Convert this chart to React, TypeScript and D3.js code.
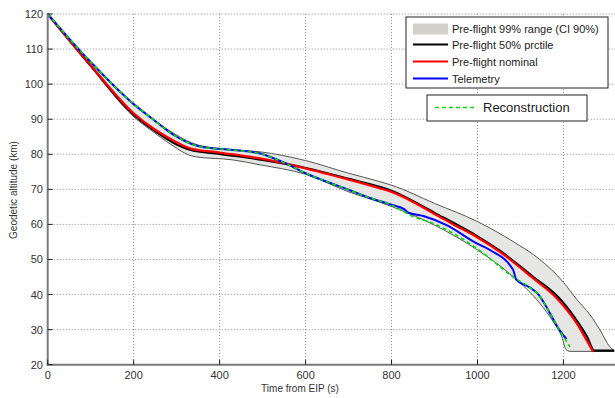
import React from "react";
import * as d3 from "d3";

// ---------- data ----------
const xTicks = [0, 200, 400, 600, 800, 1000, 1200];
const yTicks = [20, 30, 40, 50, 60, 70, 80, 90, 100, 110, 120];

const bandUpperT = [0, 100, 200, 277, 354, 431, 494, 600, 700, 773, 800, 900, 1000, 1083, 1145, 1200, 1231, 1262, 1285, 1308, 1318];
const bandUpperA = [120, 106.2, 94.3, 87.2, 82.5, 81.3, 80.7, 78.2, 74.6, 72.2, 71.2, 66, 60.8, 55.1, 50, 43.5, 38.6, 34.2, 29.9, 25.1, 24];
const bandLowerT = [0, 100, 200, 250, 277, 343, 431, 494, 600, 700, 773, 800, 900, 1000, 1083, 1145, 1176, 1196, 1206, 1215, 1318];
const bandLowerA = [120, 105, 90.7, 86, 83.6, 79.3, 78.4, 77, 74.3, 69.3, 66.3, 65.1, 59.8, 52.7, 45.1, 37.5, 32.3, 28, 24.3, 23.8, 23.8];

const p50T = [0, 100, 200, 250, 300, 331, 400, 500, 600, 700, 800, 900, 1000, 1052, 1130, 1180, 1200, 1231, 1254, 1272, 1318];
const p50A = [120, 105.2, 91.3, 86.6, 82.8, 81.3, 80.1, 78.4, 76.1, 73, 69.6, 63.3, 56.6, 52.5, 45, 40.2, 37.6, 32.6, 28.2, 24, 24];

const nominalT = [0, 100, 200, 250, 277, 331, 400, 494, 600, 700, 773, 800, 900, 944, 1000, 1052, 1130, 1180, 1200, 1231, 1254, 1269];
const nominalA = [120, 105.4, 91.7, 87, 85, 81.7, 80.5, 78.8, 76, 72.8, 70.3, 69.3, 63, 60, 56.3, 52.2, 44.6, 39.5, 36.8, 31.8, 27, 23.7];

const telemetryT = [0, 100, 200, 250, 277, 300, 354, 431, 494, 550, 600, 700, 742, 800, 830, 838, 874, 928, 998, 1029, 1083, 1090, 1122, 1142, 1168, 1190, 1207];
const telemetryA = [120, 106.3, 94.3, 89.5, 86.9, 85, 82.2, 81.2, 80.2, 77.6, 74.6, 69.9, 67.9, 65.6, 64.3, 63.4, 62.4, 59.8, 54.6, 52.7, 47, 44.3, 42, 40, 34.8, 30, 27.3];

const reconT = [0, 100, 200, 250, 277, 300, 354, 431, 494, 550, 600, 700, 742, 800, 851, 897, 998, 1083, 1122, 1142, 1168, 1190, 1215];
const reconA = [120, 106.3, 94.3, 89.5, 86.9, 85, 82.2, 81.2, 80.2, 77.6, 74.6, 69.9, 67.9, 65.5, 62.2, 60.3, 53.2, 45, 42, 40, 34.8, 30, 25.1];

const legendLabels = ["Pre-flight 99% range (CI 90%)", "Pre-flight 50% prctile", "Pre-flight nominal", "Telemetry"];
const legend2Label = "Reconstruction";

// ---------- layout ----------
const W = 615, H = 398;
const x = d3.scaleLinear().domain([0, 1320]).range([47.7, 47.7 + 1320 * 0.4298]);
const y = d3.scaleLinear().domain([20, 120]).range([364.7, 14]);

type P = [number, number];
const zip = (t: number[], a: number[]): P[] => t.map((v, i) => [v, a[i]]);

const line = d3.line<P>().x(d => x(d[0])).y(d => y(d[1])).curve(d3.curveMonotoneX);

export default function App() {
  const upper = zip(bandUpperT, bandUpperA);
  const lower = zip(bandLowerT, bandLowerA);
  const lowerRev = [...lower].reverse();
  const fillPath = line(upper)! + line(lowerRev)!.replace(/^M/, "L") + "Z";
  const font = "Arial, 'Liberation Sans', sans-serif";
  const tickColor = "#333";
  const legendY = [29, 44.5, 61.5, 78.5];
  return (
    <svg width={W} height={H} style={{ position: "absolute", left: 0, top: 0, background: "#fff" }} fontFamily={font}>
      {/* grid */}
      <g stroke="#8a8a8a" strokeWidth={1} strokeDasharray="1,2">
        {xTicks.filter(t => t > 0).map(t => (
          <line key={"gx" + t} x1={x(t)} x2={x(t)} y1={y(120)} y2={y(20)} />
        ))}
        {yTicks.filter(t => t > 20).map(t => (
          <line key={"gy" + t} x1={x(0)} x2={W} y1={y(t)} y2={y(t)} />
        ))}
      </g>
      {/* band */}
      <path d={fillPath} fill="#e6e6e4" stroke="none" />
      <path d={line(upper)!} fill="none" stroke="#555" strokeWidth={1} />
      <path d={line(lower)!} fill="none" stroke="#555" strokeWidth={1} />
      {/* lines */}
      <path d={line(zip(p50T, p50A))!} fill="none" stroke="#000" strokeWidth={2.2} />
      <path d={line(zip(nominalT, nominalA))!} fill="none" stroke="#ff0000" strokeWidth={2.3} />
      <path d={line(zip(telemetryT, telemetryA))!} fill="none" stroke="#0000ff" strokeWidth={2} />
      <path d={line(zip(reconT, reconA))!} fill="none" stroke="#00e000" strokeWidth={1.6} strokeDasharray="4,3" />
      {/* axes */}
      <line x1={x(0)} x2={x(0)} y1={y(120) - 1} y2={y(20) + 1} stroke="#7a7a7a" strokeWidth={2} />
      <line x1={x(0) - 1} x2={W} y1={y(20)} y2={y(20)} stroke="#7a7a7a" strokeWidth={2} />
      {xTicks.map(t => (
        <g key={"xt" + t}>
          <line x1={x(t)} x2={x(t)} y1={y(20)} y2={y(20) - 5} stroke="#222" strokeWidth={1} />
          <text x={x(t)} y={379} fontSize={11} textAnchor="middle" fill={tickColor}>{t}</text>
        </g>
      ))}
      {yTicks.map(t => (
        <g key={"yt" + t}>
          <line x1={x(0)} x2={x(0) + 5} y1={y(t)} y2={y(t)} stroke="#222" strokeWidth={1} />
          <text x={43} y={y(t) + 4} fontSize={11} textAnchor="end" fill={tickColor}>{t}</text>
        </g>
      ))}
      <text x={300} y={392} fontSize={10} textAnchor="middle" fill={tickColor}>Time from EIP (s)</text>
      <text transform={`translate(17,190) rotate(-90)`} fontSize={10} textAnchor="middle" fill={tickColor}>Geodetic altitude (km)</text>
      {/* legend 1 */}
      <rect x={406} y={17} width={202} height={71} fill="#fff" stroke="#222" strokeWidth={1} />
      <rect x={413} y={23.5} width={35} height={11} fill="#d3d0cb" />
      <line x1={413} x2={448} y1={legendY[1]} y2={legendY[1]} stroke="#000" strokeWidth={2} />
      <line x1={413} x2={448} y1={legendY[2]} y2={legendY[2]} stroke="#ff0000" strokeWidth={2} />
      <line x1={413} x2={448} y1={legendY[3]} y2={legendY[3]} stroke="#0000ff" strokeWidth={2} />
      {legendLabels.map((l, i) => (
        <text key={l} x={452} y={legendY[i] + 4} fontSize={11} fill="#222">{l}</text>
      ))}
      {/* legend 2 */}
      <rect x={427} y={95} width={160} height={26} fill="#fff" stroke="#222" strokeWidth={1} />
      <line x1={435} x2={477} y1={107.5} y2={107.5} stroke="#00e000" strokeWidth={1.6} strokeDasharray="4,3" />
      <text x={483} y={112} fontSize={13} fill="#222">{legend2Label}</text>
    </svg>
  );
}
